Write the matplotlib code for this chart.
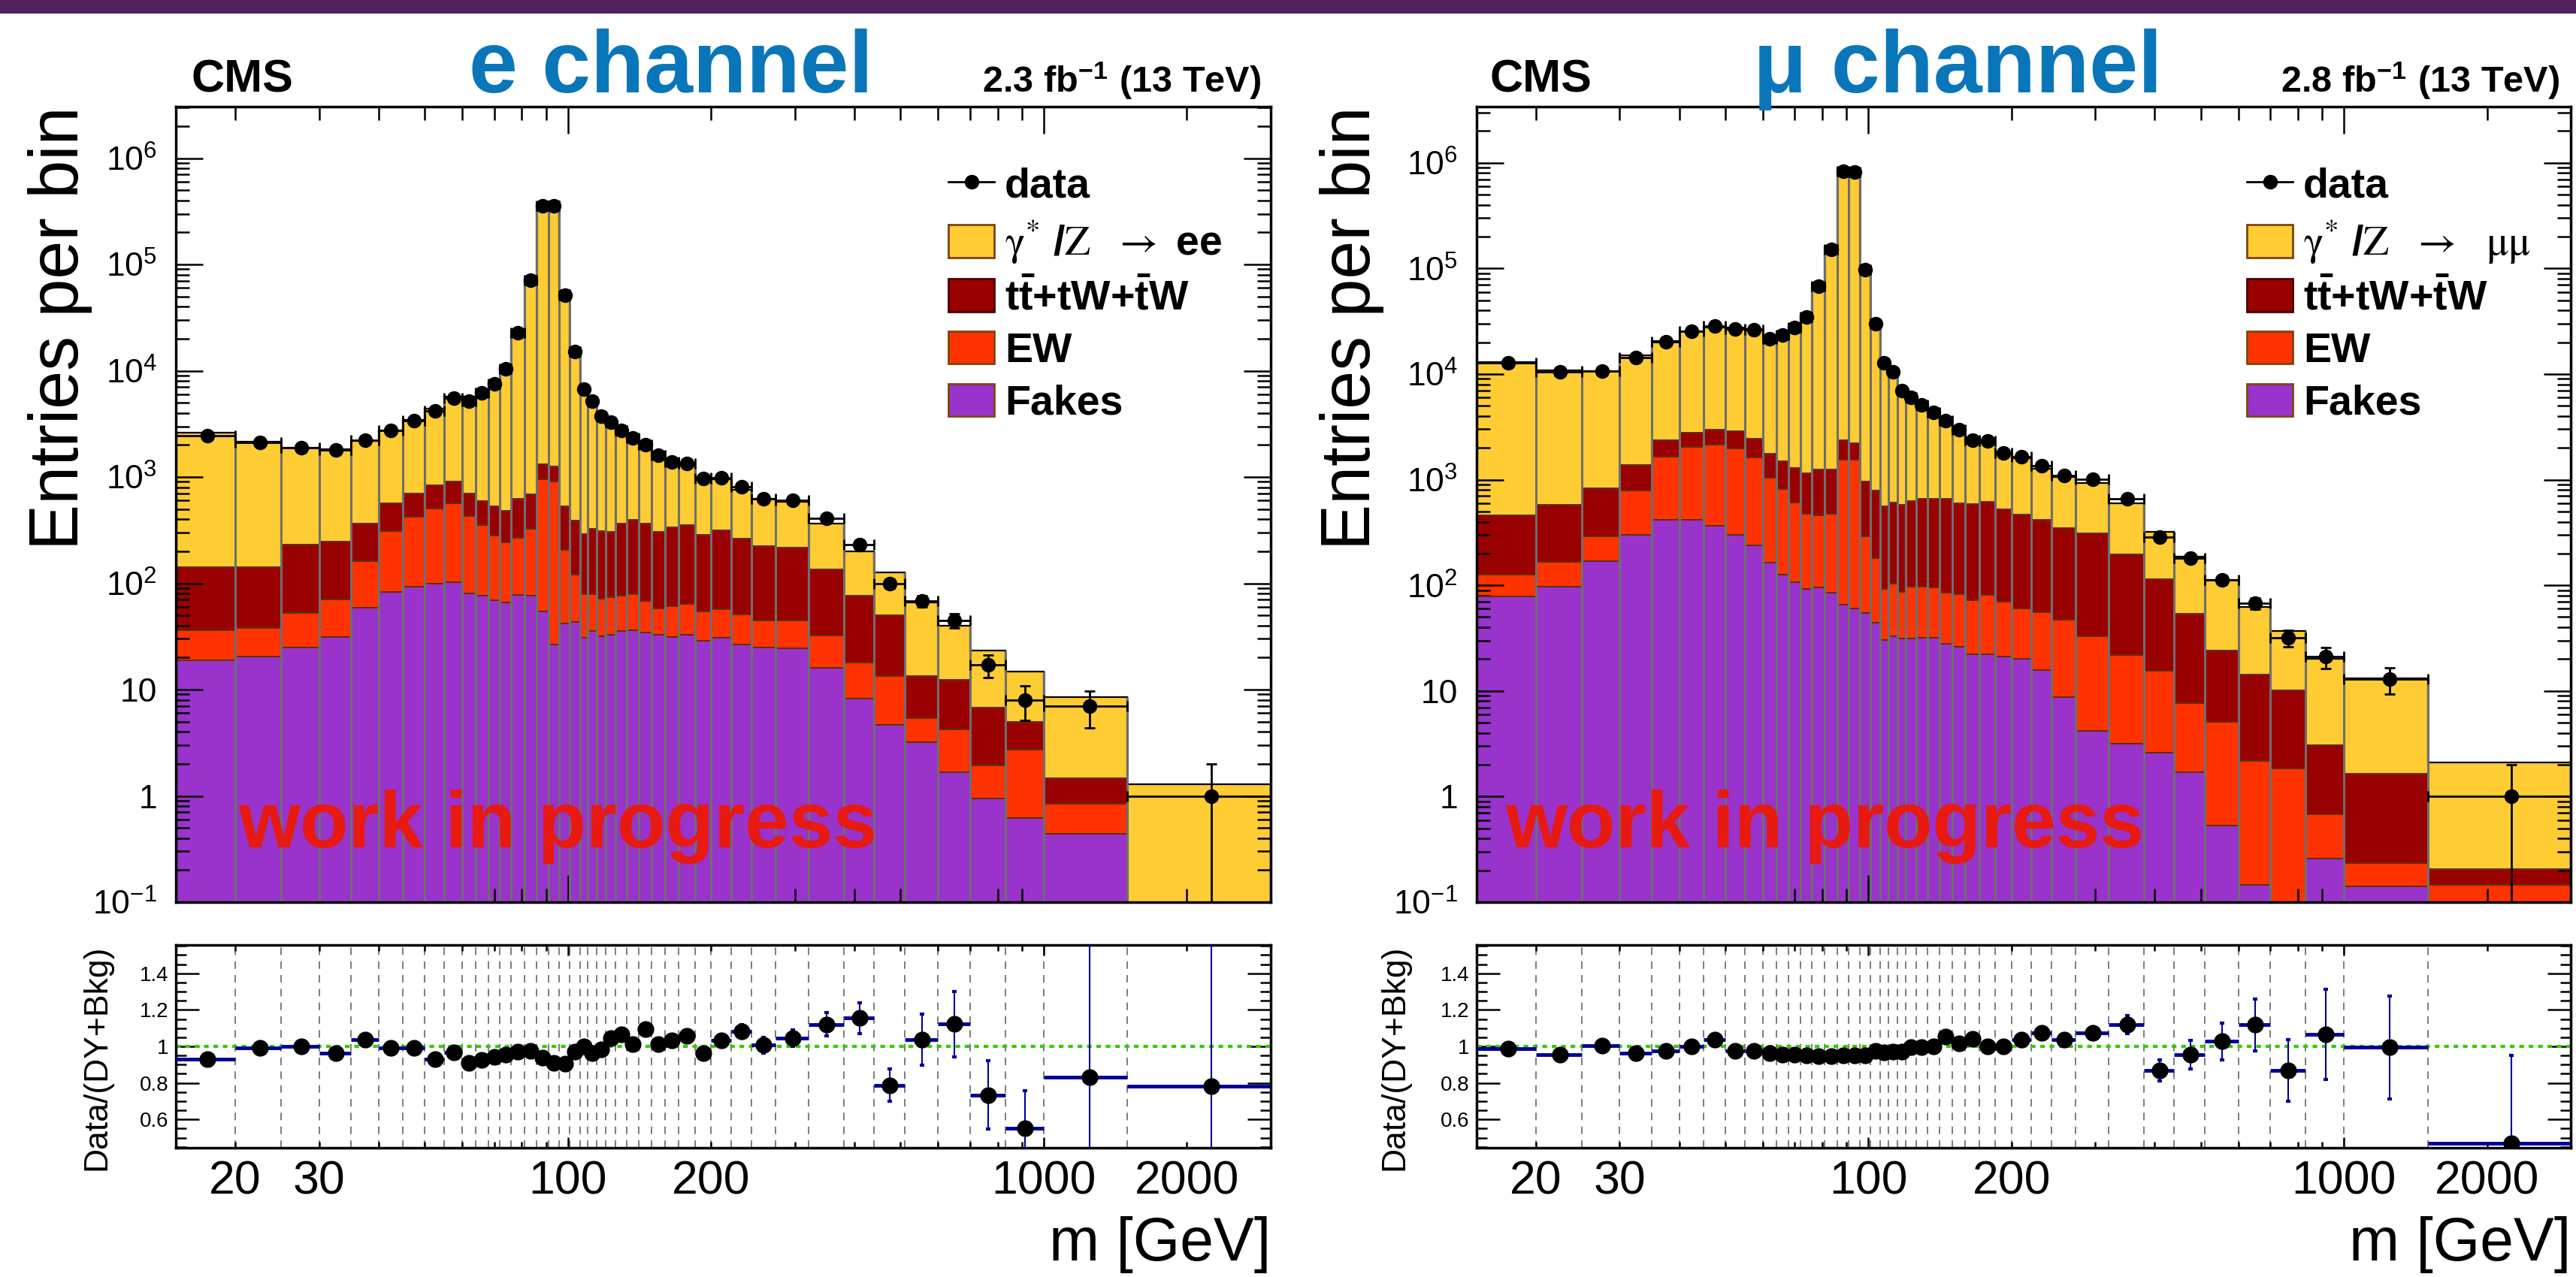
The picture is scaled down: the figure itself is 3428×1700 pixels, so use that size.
import numpy as np
import matplotlib
matplotlib.use("Agg")
import matplotlib.pyplot as plt
from matplotlib.patches import Patch, Rectangle
from matplotlib.lines import Line2D
from matplotlib.ticker import LogLocator, MultipleLocator, NullFormatter, FuncFormatter

plt.rcParams['font.family'] = ['Liberation Sans', 'DejaVu Sans']
plt.rcParams['mathtext.fontset'] = 'stix'

# mass bin edges [GeV]
edges = [15, 20, 25, 30, 35, 40, 45, 50, 55, 60, 64, 68, 72, 76, 81, 86, 91, 96, 101, 106,
         110, 115, 120, 126, 133, 141, 150, 160, 171, 185, 200, 220, 243, 273, 320, 380, 440,
         510, 600, 700, 830, 1000, 1500, 3000]

# ---- electron channel: data and stacked levels (top of each layer, cumulative)
e_data = [2450, 2120, 1890, 1800, 2230, 2740, 3400, 4200, 5500,
          5160, 6190, 7520, 10470, 22700, 71000, 358000, 358000, 51600, 15240,
          6710, 5160, 3750, 3270, 2760, 2325, 2003, 1595, 1376, 1345,
          966, 989, 815, 627, 606, 411, 232, 100, 68, 45,
          17, 8, 7, 1]
e_dy = [2600, 2140, 1890, 1840, 2180, 2760, 3430, 4400, 5680,
        5680, 6690, 7980, 10990, 23330, 72670, 381700, 394000, 57080, 15660,
        6710, 5360, 3810, 3130, 2590, 2300, 1830, 1578, 1331, 1270,
        1003, 958, 753, 622, 580, 367, 200, 127, 66, 40,
        23.5, 14.7, 8.5, 1.28]
e_tt = [142, 142, 232, 246, 367, 565, 703, 834, 902,
        703, 592, 528, 482, 620, 687, 1315, 1256, 528, 388,
        292, 327, 309, 305, 363, 398, 363, 305, 335, 351,
        288, 313, 264, 224, 217, 134.5, 76, 49.9, 13.5, 12.3,
        6.79, 4.93, 1.46, 0.06]
e_ew = [36, 38, 52.8, 71, 161, 309, 421, 505, 565,
        430, 351, 282, 243, 267, 327, 955, 912, 207, 120,
        79.6, 78.7, 71.8, 73.5, 76, 78.7, 68, 57.8, 60.5, 64,
        54, 57.2, 51, 44.6, 44.6, 32.4, 17.9, 13.5, 5.35, 4.25,
        1.94, 2.7, 0.84, 0.04]
e_fakes = [18.9, 20.5, 24.9, 31.3, 58.5, 82.4, 93.4, 100, 102,
           80.5, 76, 69.5, 66.4, 77.8, 76, 54, 26.7, 41.6, 43,
           30.5, 35.5, 31.6, 33, 35.5, 36.3, 34.3, 32.7, 31.3, 33,
           28.9, 30.5, 26.7, 24.9, 24.3, 16, 8.24, 4.66, 3.2, 1.67,
           0.944, 0.62, 0.44, 0.02]
e_ratio = [0.932, 0.990, 1.000, 0.963, 1.036, 0.990, 0.990, 0.932, 0.967,
           0.908, 0.925, 0.942, 0.953, 0.973, 0.977, 0.938, 0.908, 0.904, 0.973,
           1.000, 0.963, 0.984, 1.045, 1.066, 1.011, 1.096, 1.011, 1.034, 1.059,
           0.963, 1.032, 1.082, 1.008, 1.045, 1.121, 1.155, 0.788, 1.038, 1.123,
           0.734, 0.552, 0.833, 0.781]
e_ratio_err = [0.02, 0.022, 0.023, 0.024, 0.021, 0.019, 0.017, 0.015, 0.013,
               0.013, 0.012, 0.011, 0.009, 0.006, 0.004, 0.002, 0.002, 0.004, 0.008,
               0.012, 0.014, 0.016, 0.018, 0.02, 0.022, 0.024, 0.027, 0.029, 0.029,
               0.033, 0.033, 0.038, 0.043, 0.044, 0.062, 0.084, 0.089, 0.14, 0.179,
               0.186, 0.205, 0.8, 0.8]

# ---- muon channel
mu_data = [12860, 10470, 10710, 14430, 20100, 25600, 28370, 26800, 26180,
           21540, 23330, 27720, 34840, 67700, 151000, 832000, 813000, 97700, 30060,
           12710, 10470, 7010, 6040, 5140, 4330, 3610, 2970, 2360, 2330,
           1786, 1648, 1356, 1102, 1005, 658, 284, 180, 113, 68,
           32, 21, 13, 1]
mu_dy = [13000, 10900, 10650, 15000, 20500, 25600, 27400, 27500, 26900,
         22400, 24500, 29100, 36700, 71600, 159800, 876700, 856700, 102900, 30860,
         13160, 10790, 7200, 6060, 5155, 4326, 3430, 2917, 2267, 2328,
         1784, 1588, 1264, 1064, 937, 595, 322, 186, 112, 62,
         37, 20.2, 13.1, 2.12]
mu_tt = [459, 577, 832, 1377, 2360, 2800, 2970, 2870, 2445,
         1753, 1493, 1285, 1148, 1258, 1258, 2360, 2230, 966, 795,
         564, 611, 577, 632, 655, 655, 655, 597, 584, 621,
         522, 466, 415, 350, 312, 197, 113.5, 53.8, 24.1, 14.4,
         10.2, 3.08, 1.64, 0.205]
mu_ew = [127, 167, 290, 795, 1637, 2034, 2130, 1990, 1618,
         1035, 813, 611, 475, 459, 475, 1545, 1545, 290, 179.5,
         92.3, 103.5, 87, 97.7, 97.7, 95.5, 85.2, 82.2, 71.8, 81.3,
         70, 60.4, 55.7, 46.9, 33.2, 21.7, 15.4, 7.72, 5.1, 2.18,
         1.84, 0.684, 0.233, 0.145]
mu_fakes = [78.7, 96.6, 169, 300, 419, 419, 365, 300, 239,
            164, 127, 107, 92.3, 95.5, 85.2, 65.5, 60.4, 55.1, 44.3,
            30.4, 32.9, 31.5, 31.5, 32.1, 32.1, 28, 26.2, 22.3, 22.2,
            21, 20.3, 15.7, 8.67, 4.2, 3.15, 2.6, 1.71, 0.53, 0.145,
            0.05, 0.26, 0.142, 0.05]
mu_ratio = [0.986, 0.956, 1.004, 0.963, 0.977, 1.000, 1.036, 0.974, 0.974,
            0.963, 0.953, 0.953, 0.949, 0.945, 0.945, 0.949, 0.949, 0.949, 0.974,
            0.966, 0.970, 0.973, 0.997, 0.997, 1.001, 1.052, 1.018, 1.041, 1.001,
            1.001, 1.038, 1.073, 1.036, 1.073, 1.118, 0.867, 0.953, 1.027, 1.118,
            0.867, 1.066, 0.995, 0.469]
mu_ratio_err = [0.009, 0.01, 0.01, 0.008, 0.007, 0.006, 0.006, 0.006, 0.006,
                0.007, 0.007, 0.006, 0.005, 0.004, 0.003, 0.001, 0.001, 0.003, 0.006,
                0.009, 0.01, 0.012, 0.013, 0.014, 0.015, 0.017, 0.019, 0.021, 0.021,
                0.024, 0.025, 0.028, 0.031, 0.032, 0.05, 0.058, 0.078, 0.1, 0.143,
                0.168, 0.245, 0.282, 0.48]

y_ticks = [0.1, 1, 10, 1e2, 1e3, 1e4, 1e5, 1e6]
y_tick_text = [r'$\mathregular{10^{-1}}$', '1', '10', r'$\mathregular{10^{2}}$',
               r'$\mathregular{10^{3}}$', r'$\mathregular{10^{4}}$',
               r'$\mathregular{10^{5}}$', r'$\mathregular{10^{6}}$']
ratio_ticks = [0.6, 0.8, 1.0, 1.2, 1.4]
ratio_tick_text = ['0.6', '0.8', '1', '1.2', '1.4']
x_minor_text = {20: '20', 30: '30', 200: '200', 2000: '2000'}

col_dy = '#ffcc33'
col_tt = '#990000'
col_ew = '#ff3300'
col_fk = '#9933cc'

W, H = 3428, 1700
fig = plt.figure(figsize=(W / 100, H / 100), dpi=100)
fig.add_artist(Rectangle((0, 1 - 18 / H), 1, 18 / H, transform=fig.transFigure,
                         color='#51205f', lw=0))


def box(x, y, w, h):
    return [x / W, 1 - (y + h) / H, w / W, h / H]


def draw_channel(x0, wd, data, dy, tt, ew, fakes, ratio, ratio_err, ymax,
                 title, lumi, dy_label, cms_x, title_x, lumi_x, wip_x, yl_x, ryl_x, leg_x):
    ax = fig.add_axes(box(x0, 142, wd, 1059))
    rax = fig.add_axes(box(x0, 1258, wd, 270))

    lo = np.array(edges[:-1], float)
    hi = np.array(edges[1:], float)
    mid = 0.5 * (lo + hi)
    levels = [np.full(len(lo), 1e-3), np.array(fakes), np.array(ew), np.array(tt), np.array(dy)]
    for bot, top, col in zip(levels[:-1], levels[1:], [col_fk, col_ew, col_tt, col_dy]):
        ax.bar(lo, top - bot, width=hi - lo, bottom=bot, align='edge', color=col,
               linewidth=0, zorder=1)
    for top in levels[1:4]:
        ax.stairs(top, edges, color='#5e2f08', lw=1.4, zorder=2)
    ax.stairs(levels[4], edges, color='black', lw=1.6, zorder=2)
    tot = levels[4]
    sep = np.maximum(np.r_[tot[0], tot], np.r_[tot, tot[-1]])
    ax.vlines(edges, 1e-3, sep, color='#6e6e6e', lw=2.2, zorder=2)

    d = np.array(data, float)
    ax.errorbar(mid, d, yerr=np.sqrt(d), xerr=[mid - lo, hi - mid], fmt='o', color='black',
                ms=13, elinewidth=2, capsize=5, capthick=2, zorder=4)

    ax.set_xscale('log')
    ax.set_yscale('log')
    ax.set_xlim(15, 3000)
    ax.set_ylim(0.1, ymax)
    ax.set_yticks(y_ticks, y_tick_text)
    ax.yaxis.set_minor_locator(LogLocator(base=10, subs=np.arange(2, 10), numticks=20))
    ax.yaxis.set_minor_formatter(NullFormatter())
    ax.xaxis.set_minor_locator(LogLocator(base=10, subs=np.arange(2, 10), numticks=20))
    ax.tick_params(which='both', direction='in', top=True, right=True, labelbottom=False,
                   width=1.8, labelsize=32, pad=18)
    ax.tick_params(which='major', length=26)
    ax.tick_params(which='minor', length=13)
    for s in ax.spines.values():
        s.set_linewidth(2.5)
    ax.set_ylabel('Entries per bin', fontsize=66, loc='top')
    ax.yaxis.set_label_coords(yl_x, 1.0)

    ax.text(cms_x, 1.018, 'CMS', transform=ax.transAxes, fontsize=44, fontweight='bold',
            ha='left', va='baseline')
    ax.text(title_x, 1.018, title, transform=ax.transAxes, fontsize=84, fontweight='bold',
            color='#0a76ba', ha='center', va='baseline')
    ax.text(lumi_x, 1.018, lumi, transform=ax.transAxes, fontsize=35, fontweight='bold',
            ha='right', va='baseline')
    ax.text(wip_x, 0.069, 'work in progress', transform=ax.transAxes, fontsize=76,
            fontweight='bold', color='#e8190e', ha='left', va='baseline', zorder=5)

    handles = [Line2D([], [], color='black', marker='o', ms=13, lw=2),
               Patch(facecolor=col_dy, edgecolor='#7a4510', lw=2),
               Patch(facecolor=col_tt, edgecolor='#4a0000', lw=2),
               Patch(facecolor=col_ew, edgecolor='#7a4510', lw=2),
               Patch(facecolor=col_fk, edgecolor='#7a4510', lw=2)]
    labels = ['data', dy_label, r'$\mathregular{t\bar{t}}$+tW+$\mathregular{\bar{t}}$W',
              'EW', 'Fakes']
    ax.legend(handles, labels, loc='upper left', bbox_to_anchor=(leg_x, 0.925),
              frameon=False, prop={'weight': 'bold', 'size': 40}, handlelength=1.1,
              handleheight=0.83, handletextpad=0.25, labelspacing=0.3, borderpad=0,
              borderaxespad=0)

    # ratio panel
    for e in edges[1:-1]:
        rax.axvline(e, color='#666666', lw=1.2, ls=(0, (6, 5)), zorder=1)
    rax.axhline(1.0, color='#33cc00', lw=3, ls=(0, (1.5, 1.5)), zorder=2)
    rax.hlines(ratio, lo, hi, color='#000099', lw=3.5, zorder=3)
    rax.errorbar(mid, ratio, yerr=ratio_err, fmt='o', color='black', ms=15, ecolor='#000099',
                 elinewidth=1.5, capsize=2.5, capthick=3, zorder=4)
    rax.set_xscale('log')
    rax.set_xlim(15, 3000)
    rax.set_ylim(0.445, 1.555)
    rax.set_yticks(ratio_ticks, ratio_tick_text)
    rax.yaxis.set_minor_locator(MultipleLocator(0.05))
    rax.set_xticks([100, 1000], ['100', '1000'])
    rax.xaxis.set_minor_locator(LogLocator(base=10, subs=np.arange(2, 10), numticks=20))
    rax.xaxis.set_minor_formatter(FuncFormatter(lambda v, p: x_minor_text.get(int(round(v)), '')))
    rax.tick_params(which='both', direction='in', top=True, right=True, width=1.8)
    rax.tick_params(axis='x', which='both', labelsize=45, pad=11)
    rax.tick_params(axis='x', which='major', length=10)
    rax.tick_params(axis='x', which='minor', length=6)
    rax.tick_params(axis='y', which='both', labelsize=20, pad=7)
    rax.tick_params(axis='y', which='major', length=22)
    rax.tick_params(axis='y', which='minor', length=10)
    for s in rax.spines.values():
        s.set_linewidth(2.5)
    rax.set_ylabel('Data/(DY+Bkg)', fontsize=32, loc='top')
    rax.yaxis.set_label_coords(ryl_x, 1.0)
    rax.set_xlabel('m [GeV]', fontsize=58, loc='right')
    rax.xaxis.label.set_va('baseline')
    rax.xaxis.set_label_coords(1.0, -0.555)


draw_channel(234, 1457, e_data, e_dy, e_tt, e_ew, e_fakes, e_ratio, e_ratio_err, 3.05e6,
             'e channel', r'2.3 fb$^{\mathregular{-1}}$ (13 TeV)',
             r'$\mathrm{\gamma^{*}}$ /$\mathrm{Z}$  $\rightarrow$ ee',
             0.014, 0.452, 0.991, 0.057, -0.076, -0.058, 0.7056)
draw_channel(1965, 1456, mu_data, mu_dy, mu_tt, mu_ew, mu_fakes, mu_ratio, mu_ratio_err, 3.4e6,
             '\u03bc channel', r'2.8 fb$^{\mathregular{-1}}$ (13 TeV)',
             r'$\mathrm{\gamma^{*}}$ /$\mathrm{Z}$  $\rightarrow$  $\mathrm{\mu\mu}$',
             0.012, 0.440, 0.990, 0.026, -0.0845, -0.061, 0.704)

fig.savefig('out.png', dpi=100)
